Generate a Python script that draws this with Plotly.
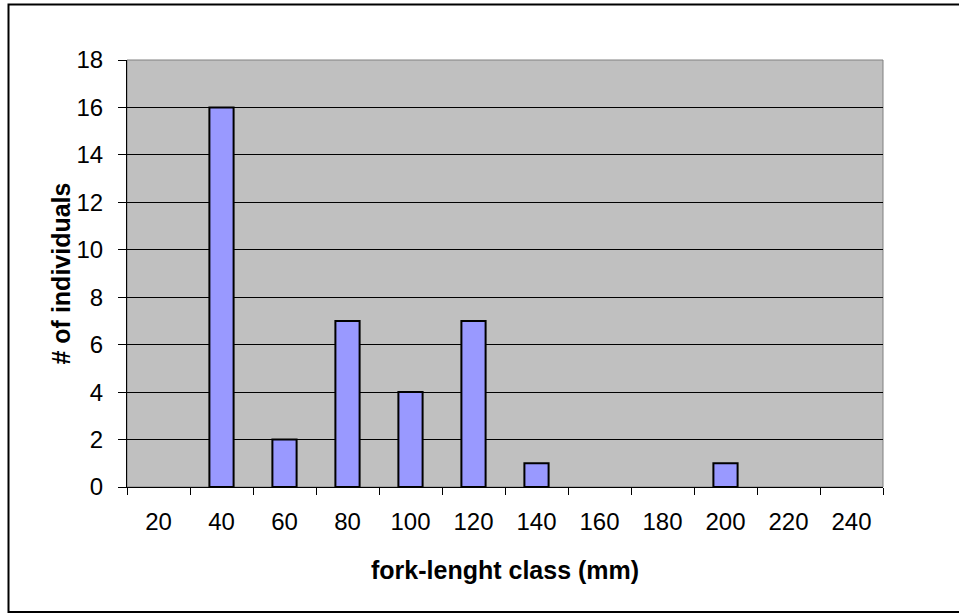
import plotly.graph_objects as go

# Fork-length classes (mm) and number of individuals per class
length_classes = ["20", "40", "60", "80", "100", "120", "140", "160", "180", "200", "220", "240"]
individuals = [0, 16, 2, 7, 4, 7, 1, 0, 0, 1, 0, 0]
y_ticks = list(range(0, 19, 2))

W, H = 959, 615
ML, MR, MT, MB = 127, 76, 60, 128
PW, PH = W - ML - MR, H - MT - MB

FONT = "Liberation Sans, Arial, sans-serif"

# empty classes get no outline so nothing is drawn on the baseline
outline_widths = [2 if v > 0 else 0 for v in individuals]

fig = go.Figure(
    go.Bar(
        x=length_classes,
        y=individuals,
        marker=dict(color="#9999FF", line=dict(color="black", width=outline_widths)),
        hoverinfo="x+y",
    )
)

fig.update_layout(
    width=W,
    height=H,
    margin=dict(l=ML, r=MR, t=MT, b=MB, pad=0),
    paper_bgcolor="white",
    plot_bgcolor="#C0C0C0",
    bargap=0.616,
    showlegend=False,
    font=dict(family=FONT, size=24, color="black"),
)

fig.update_xaxes(
    type="category",
    tickson="boundaries",
    ticks="outside",
    ticklen=7,
    tickcolor="black",
    tickwidth=1,
    showline=True,
    linecolor="black",
    linewidth=1,
    showgrid=False,
    tickfont=dict(size=24),
    ticklabelstandoff=13,
    fixedrange=True,
)

fig.update_yaxes(
    range=[0, 18],
    tickvals=y_ticks,
    ticks="outside",
    ticklen=8,
    tickcolor="black",
    tickwidth=1,
    showline=True,
    linecolor="black",
    linewidth=1,
    showgrid=True,
    gridcolor="black",
    gridwidth=1,
    zeroline=False,
    tickfont=dict(size=24),
    ticklabelstandoff=10,
    fixedrange=True,
)

# Axis titles
fig.add_annotation(
    text="<b>fork-lenght class (mm)</b>",
    xref="paper", yref="paper", x=0.5, y=0,
    xanchor="center", yanchor="middle", yshift=-83,
    showarrow=False, font=dict(family=FONT, size=25, color="black"),
)
fig.add_annotation(
    text="<b># of individuals</b>",
    xref="paper", yref="paper", x=0, y=0.5,
    xanchor="center", yanchor="middle", xshift=-67, textangle=-90,
    showarrow=False, font=dict(family=FONT, size=25, color="black"),
)

# Plot-area outline
fig.add_shape(
    type="rect", xref="paper", yref="paper", x0=0, y0=0, x1=1, y1=1,
    line=dict(color="#808080", width=1), layer="below",
)

# Chart border (runs off the right edge of the page)
def px_x(p):
    return (p - ML) / PW

def px_y(p):
    return (H - MB - p) / PH

fig.add_shape(
    type="rect", xref="paper", yref="paper",
    x0=px_x(8.5), x1=px_x(1000), y0=px_y(612), y1=px_y(4.5),
    line=dict(color="black", width=2),
)

fig.write_html("out.html")
